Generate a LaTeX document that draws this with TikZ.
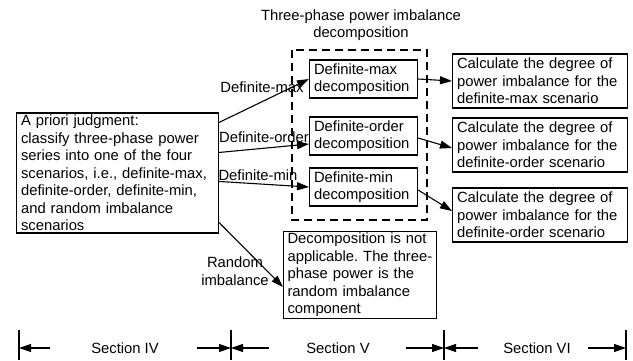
\documentclass[tikz,border=0pt]{standalone}
\usepackage{fontspec}
\setmainfont{Liberation Sans}
\usetikzlibrary{arrows.meta}

\tikzset{
  every node/.style={font=\fontsize{14.8}{17.5}\selectfont\frenchspacing},
  box/.style={draw, line width=1.1pt, align=left, anchor=west, inner xsep=4.5pt, inner ysep=2pt},
  decbox/.style={box, text width=99pt, minimum height=38pt},
  calcbox/.style={box, text width=166pt, minimum height=54pt},
  lbl/.style={inner sep=0pt, align=center},
  arr/.style={-{Triangle[length=12pt,width=8pt]}, line width=1.1pt},
}

\begin{document}
\begin{tikzpicture}[x=1pt,y=-1pt]
\useasboundingbox (0,0) rectangle (633,360);

\node[lbl] (title) at (361,25) {Three-phase power imbalance\\decomposition};
\draw[line width=2pt, dash pattern=on 8pt off 5pt] (292,50) rectangle (427,220);

\node[box, text width=193pt, minimum height=120pt] (judge) at (16,173)
  {A priori judgment:\\classify three-phase power\\series into one of the four\\scenarios, i.e., definite-max,\\definite-order, definite-min,\\and random imbalance\\scenarios};

\node[decbox] (dmax)   at (309,79)  {Definite-max\\decomposition};
\node[decbox] (dorder) at (309,136) {Definite-order\\decomposition};
\node[decbox] (dmin)   at (309,187) {Definite-min\\decomposition};

\node[calcbox] (cmax)   at (452,81)  {Calculate the degree of\\power imbalance for the\\definite-max scenario};
\node[calcbox] (corder) at (452,145) {Calculate the degree of\\power imbalance for the\\definite-order scenario};
\node[calcbox] (cmin)   at (452,215) {Calculate the degree of\\power imbalance for the\\definite-order scenario};

\node[box, text width=145pt, inner xsep=4pt, minimum height=86pt] (rand) at (283,275)
  {Decomposition is not\\applicable. The three-\\phase power is the\\random imbalance\\component};

% scenario labels
\node[lbl] (lmax)   at (262,87)  {Definite-max};
\node[lbl] (lorder) at (264,137) {Definite-order};
\node[lbl] (lmin)   at (258,175) {Definite-min};
\node[lbl] (lrand)  at (235,271) {Random\\imbalance};

\draw[arr] ([yshift=-10pt]judge.north east) -- (dmax.west);
\draw[arr] ([yshift=-40pt]judge.north east) -- ([yshift=-8pt]dorder.west);
\draw[arr] ([yshift=-69pt]judge.north east) -- (dmin.west);
\draw[arr] ([yshift=11pt]judge.south east) -- ([yshift=-12pt]rand.west);

\draw[arr] (dmax.east) -- (cmax.west);
\draw[arr] ([yshift=-2pt]dorder.east) -- ([yshift=-3pt]corder.west);
\draw[arr] ([yshift=-3pt]dmin.east) -- ([yshift=4pt]cmin.west);

% sections
\foreach \n/\x in {t1/19, t2/231, t3/444, t4/626} {
  \coordinate (\n) at (\x,348);
  \draw[line width=1.1pt] (\x,330) -- (\x,360);
}
\node[lbl] (s4) at (125,348) {Section IV};
\node[lbl] (s5) at (338,348) {Section V};
\node[lbl] (s6) at (537,348) {Section VI};

\draw[arr] ([xshift=31pt]t1) -- (t1);
\draw[arr] ([xshift=-34pt]t2) -- (t2);
\draw[arr] ([xshift=38pt]t2) -- (t2);
\draw[arr] ([xshift=-38pt]t3) -- (t3);
\draw[arr] ([xshift=34pt]t3) -- (t3);
\draw[arr] ([xshift=-38pt]t4) -- (t4);

\end{tikzpicture}
\end{document}
